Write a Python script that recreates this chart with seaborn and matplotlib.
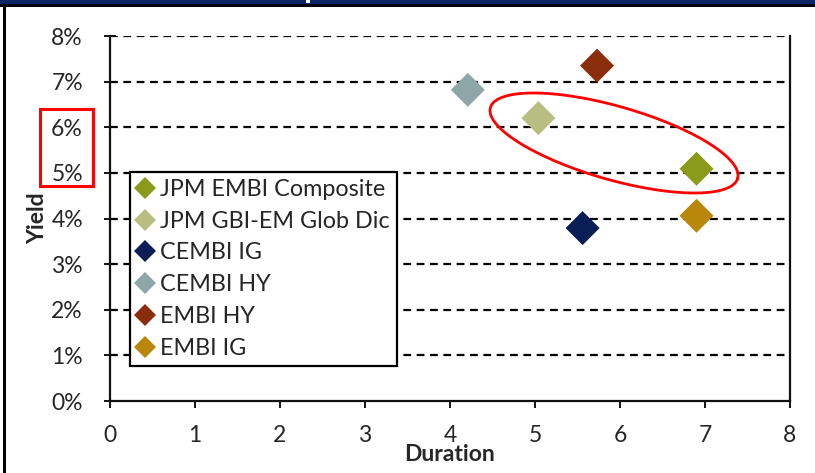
import numpy as np
import pandas as pd
import matplotlib
matplotlib.use("Agg")
import matplotlib.pyplot as plt
from matplotlib.patches import Rectangle
from matplotlib.lines import Line2D
import seaborn as sns

# ---- data ----
series = ["JPM EMBI Composite", "JPM GBI-EM Glob Dic", "CEMBI IG",
          "CEMBI HY", "EMBI HY", "EMBI IG"]
duration = [6.90, 5.04, 5.56, 4.21, 5.73, 6.90]
yield_pct = [5.09, 6.20, 3.79, 6.82, 7.35, 4.06]
colors = ["#8A9A1A", "#B8BE82", "#0A1E55", "#8FA6A8", "#8A2D0A", "#B8870B"]
x_ticks = [0, 1, 2, 3, 4, 5, 6, 7, 8]
y_ticks = [0, 1, 2, 3, 4, 5, 6, 7, 8]

df = pd.DataFrame({"Series": series, "Duration": duration, "Yield": yield_pct})

sns.set_theme(style="white")
plt.rcParams["font.family"] = ["Lato", "DejaVu Sans"]

W, H = 815, 473
fig = plt.figure(figsize=(W / 100, H / 100), dpi=100)
ax = fig.add_axes([110 / W, 1 - 401 / H, 680 / W, 365 / H])

sns.scatterplot(data=df, x="Duration", y="Yield", hue="Series",
                palette=colors, marker="D", s=300, linewidth=0,
                legend=False, ax=ax, zorder=3)

ax.set_xlim(0, 8)
ax.set_ylim(0, 8)
ax.set_xticks(x_ticks)
ax.set_yticks(y_ticks)
ax.set_xticklabels([str(t) for t in x_ticks])
ax.set_yticklabels([f"{t}%" for t in y_ticks])
ax.tick_params(axis="x", direction="out", length=5, width=1.3, color="black",
               labelsize=16.5, pad=12, bottom=True)
ax.tick_params(axis="y", direction="inout", length=9, width=1.3, color="black",
               labelsize=16.5, pad=15, left=True)
for y in y_ticks[1:]:
    ax.axhline(y, color="black", lw=1.6, ls=(0, (3.5, 2.5)), zorder=1)
for side in ["left", "bottom", "right"]:
    ax.spines[side].set_visible(True)
    ax.spines[side].set_color("#111111")
    ax.spines[side].set_linewidth(1.6)
ax.spines["top"].set_visible(False)

ax.set_xlabel("Duration", fontsize=16.5, fontweight="bold", labelpad=-1)
ax.set_ylabel("Yield", fontsize=16.5, fontweight="bold", labelpad=2)

# legend
handles = [Line2D([0], [0], marker="D", color="none", markerfacecolor=c,
                  markeredgewidth=0, markersize=11) for c in colors]
leg = ax.legend(handles, series, loc="upper left",
                bbox_to_anchor=(20 / 680, 1 - 136 / 365), fontsize=16.8,
                frameon=True, fancybox=False, framealpha=1,
                handlelength=0.7, handletextpad=0.3, labelspacing=0.46,
                borderpad=0.3, borderaxespad=0)
leg.get_frame().set_edgecolor("black")
leg.get_frame().set_facecolor("white")
leg.get_frame().set_linewidth(1.6)
leg.set_zorder(5)

# red ellipse annotation (drawn in data units, shaped in screen space)
fig.canvas.draw()
ppx = ax.bbox.width / 8
ppy = ax.bbox.height / 8
cx, cy = (614 - 110) / 85, (401 - 143) / 45.625
a_px, b_px, th = 128.6, 36.7, np.deg2rad(16)
t = np.linspace(0, 2 * np.pi, 300)
px = a_px * np.cos(t) * np.cos(th) - b_px * np.sin(t) * np.sin(th)
py = a_px * np.cos(t) * np.sin(th) + b_px * np.sin(t) * np.cos(th)
ax.plot(cx + px / ppx, cy - py / ppy, color="red", lw=2.0, zorder=4,
        clip_on=False)

# red box around 5%-6% labels
fig.patches.append(Rectangle((40 / W, 1 - 186 / H), 53 / W, 77 / H,
                             transform=fig.transFigure, fill=False,
                             edgecolor="red", lw=2.2))

# header bars and left border
fig.patches.append(Rectangle((0, 1 - 4 / H), 1, 4 / H, transform=fig.transFigure,
                             facecolor="#0B2462", edgecolor="none"))
fig.patches.append(Rectangle((0, 1 - 7 / H), 1, 3 / H, transform=fig.transFigure,
                             facecolor="black", edgecolor="none"))
fig.patches.append(Rectangle((306 / W, 1 - 3 / H), 4 / W, 3 / H,
                             transform=fig.transFigure,
                             facecolor="white", edgecolor="none"))
fig.patches.append(Rectangle((3 / W, 0), 2.5 / W, 1 - 7 / H,
                             transform=fig.transFigure,
                             facecolor="black", edgecolor="none"))

fig.savefig("out.png", dpi=100)
